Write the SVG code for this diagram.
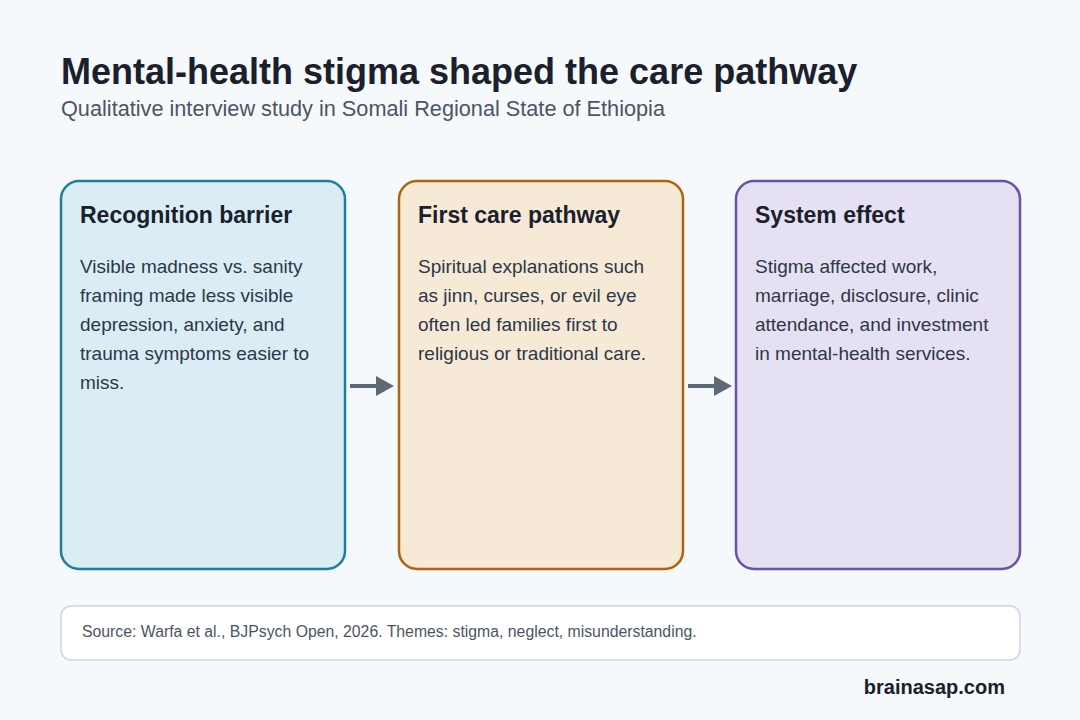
<svg xmlns="http://www.w3.org/2000/svg" width="1080" height="720" viewBox="0 0 1080 720">
<defs>
<style>
.t{font-family:"Liberation Sans",Arial,sans-serif;}
.h{font-size:23px;font-weight:bold;fill:#1a202c;}
.b{font-size:19px;fill:#2d3748;}
.card{stroke-width:2.5;}
.conn{stroke:#5f6975;stroke-width:4;fill:none;}
</style>
<marker id="ah" markerWidth="5" markerHeight="5" refX="0" refY="2.5" orient="auto" markerUnits="strokeWidth">
<path d="M0,0 L4.5,2.5 L0,5 Z" fill="#5f6975"/>
</marker>
</defs>
<rect width="1080" height="720" fill="#f5f9fc"/>
<text class="t" x="61" y="84" font-size="36" font-weight="bold" fill="#1a202c">Mental-health stigma shaped the care pathway</text>
<text class="t" x="61" y="116" font-size="21.7" fill="#4b5563">Qualitative interview study in Somali Regional State of Ethiopia</text>

<g id="node-recognition">
<rect class="card" x="61" y="181" width="284" height="388" rx="18" fill="#daedf4" stroke="#1f7f9a"/>
<text class="t h" x="80" y="223">Recognition barrier</text>
<text class="t b" x="80" y="273">Visible madness vs. sanity</text>
<text class="t b" x="80" y="302">framing made less visible</text>
<text class="t b" x="80" y="331">depression, anxiety, and</text>
<text class="t b" x="80" y="360">trauma symptoms easier to</text>
<text class="t b" x="80" y="389">miss.</text>
</g>
<g id="node-firstcare">
<rect class="card" x="399" y="181" width="284" height="388" rx="18" fill="#f6e9d6" stroke="#b0640f"/>
<text class="t h" x="418" y="223">First care pathway</text>
<text class="t b" x="418" y="273">Spiritual explanations such</text>
<text class="t b" x="418" y="302">as jinn, curses, or evil eye</text>
<text class="t b" x="418" y="331">often led families first to</text>
<text class="t b" x="418" y="360">religious or traditional care.</text>
</g>
<g id="node-system">
<rect class="card" x="736" y="181" width="284" height="388" rx="18" fill="#e6e1f2" stroke="#6b52a8"/>
<text class="t h" x="755" y="223">System effect</text>
<text class="t b" x="755" y="273">Stigma affected work,</text>
<text class="t b" x="755" y="302">marriage, disclosure, clinic</text>
<text class="t b" x="755" y="331">attendance, and investment</text>
<text class="t b" x="755" y="360">in mental-health services.</text>
</g>
<g id="connectors">
<line class="conn" x1="350" y1="386" x2="376" y2="386" marker-end="url(#ah)"/>
<line class="conn" x1="688" y1="386" x2="714" y2="386" marker-end="url(#ah)"/>
</g>
<g id="footer">
<rect x="61" y="606" width="959" height="54" rx="10" fill="#ffffff" stroke="#cbd5e1" stroke-width="1.5"/>
<text class="t" x="82" y="637" font-size="15.8" fill="#4b5563">Source: Warfa et al., BJPsych Open, 2026. Themes: stigma, neglect, misunderstanding.</text>
</g>
<text class="t" x="1005" y="694" font-size="20" font-weight="bold" fill="#1a202c" text-anchor="end">brainasap.com</text>
</svg>
